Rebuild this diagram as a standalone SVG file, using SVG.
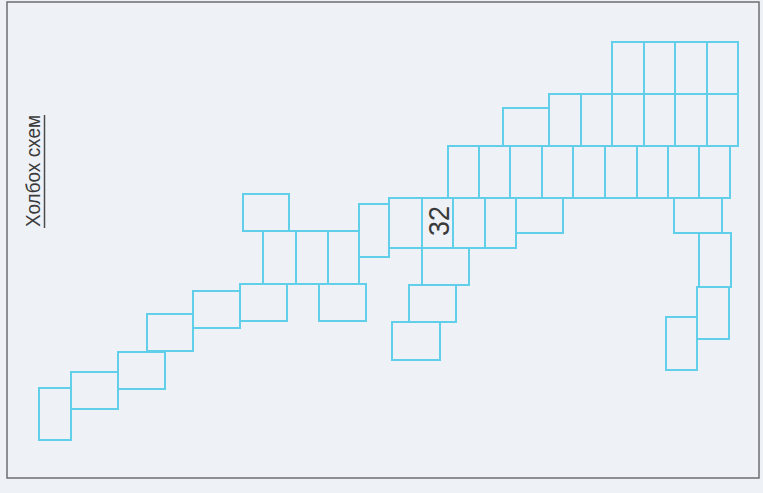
<svg xmlns="http://www.w3.org/2000/svg" width="763" height="493" viewBox="0 0 763 493">
<style>
.bg{fill:#eef2f7}
.frame{fill:none;stroke:#6e6e72;stroke-width:1.5}
.c{fill:none;stroke:#62cfea;stroke-width:2}
.t{font-family:"Liberation Sans",Arial,sans-serif;fill:#3a3a3a}
</style>
<rect class="bg" x="0" y="0" width="763" height="493"/>
<rect class="frame" x="7" y="2" width="752" height="476"/>
<g id="title">
<text class="t" font-size="21" text-anchor="middle" textLength="112" lengthAdjust="spacingAndGlyphs" transform="translate(40,171) rotate(-90)">Холбох схем</text>
<line x1="44.5" y1="115" x2="44.5" y2="228" stroke="#4a4a4a" stroke-width="1.5"/>
</g>
<g id="cells">
<g id="stair-left">
<rect class="c" x="39" y="388" width="32" height="52"/>
<rect class="c" x="71" y="372" width="47" height="37"/>
<rect class="c" x="118" y="352" width="47" height="37"/>
<rect class="c" x="147" y="314" width="46" height="37"/>
<rect class="c" x="193" y="291" width="47" height="37"/>
<rect class="c" x="240" y="284" width="47" height="37"/>
<rect class="c" x="319" y="284" width="47" height="37"/>
</g>
<g id="mid-left">
<rect class="c" x="243" y="194" width="46" height="37"/>
<rect class="c" x="263" y="231" width="33" height="53"/>
<rect class="c" x="296" y="231" width="32" height="53"/>
<rect class="c" x="328" y="231" width="31" height="53"/>
<rect class="c" x="359" y="204" width="30" height="53"/>
</g>
<g id="row4">
<rect class="c" x="389" y="198" width="33" height="50"/>
<rect class="c" x="422" y="198" width="31" height="50"/>
<rect class="c" x="453" y="198" width="32" height="50"/>
<rect class="c" x="485" y="198" width="31" height="50"/>
<rect class="c" x="516" y="198" width="47" height="35"/>
</g>
<g id="stair-down">
<rect class="c" x="422" y="248" width="47" height="37"/>
<rect class="c" x="409" y="285" width="47" height="37"/>
<rect class="c" x="392" y="322" width="48" height="38"/>
</g>
<g id="row3">
<rect class="c" x="448" y="146" width="31" height="52"/>
<rect class="c" x="479" y="146" width="31" height="52"/>
<rect class="c" x="510" y="146" width="32" height="52"/>
<rect class="c" x="542" y="146" width="31" height="52"/>
<rect class="c" x="573" y="146" width="32" height="52"/>
<rect class="c" x="605" y="146" width="32" height="52"/>
<rect class="c" x="637" y="146" width="31" height="52"/>
<rect class="c" x="668" y="146" width="31" height="52"/>
<rect class="c" x="699" y="146" width="31" height="52"/>
</g>
<g id="row2">
<rect class="c" x="503" y="108" width="46" height="38"/>
<rect class="c" x="549" y="94" width="32" height="52"/>
<rect class="c" x="581" y="94" width="31" height="52"/>
<rect class="c" x="612" y="94" width="32" height="52"/>
<rect class="c" x="644" y="94" width="31" height="52"/>
<rect class="c" x="675" y="94" width="32" height="52"/>
<rect class="c" x="707" y="94" width="31" height="52"/>
</g>
<g id="row1">
<rect class="c" x="612" y="42" width="32" height="52"/>
<rect class="c" x="644" y="42" width="31" height="52"/>
<rect class="c" x="675" y="42" width="32" height="52"/>
<rect class="c" x="707" y="42" width="31" height="52"/>
</g>
<g id="right-col">
<rect class="c" x="674" y="198" width="48" height="35"/>
<rect class="c" x="699" y="233" width="32" height="54"/>
<rect class="c" x="697" y="287" width="32" height="52"/>
<rect class="c" x="666" y="317" width="31" height="53"/>
</g>
</g>
<g id="label-32">
<text class="t" font-size="30" text-anchor="middle" textLength="30" lengthAdjust="spacingAndGlyphs" transform="translate(449,221) rotate(-90)">32</text>
</g>
</svg>
